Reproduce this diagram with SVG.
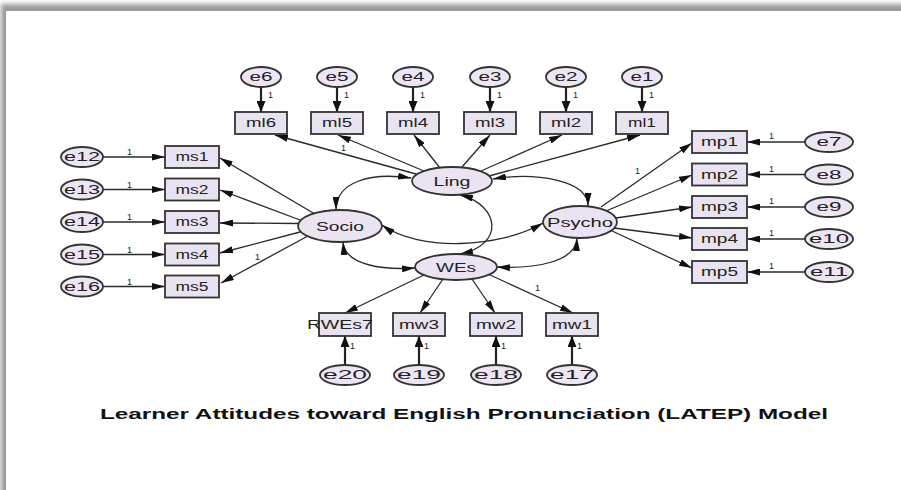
<svg xmlns="http://www.w3.org/2000/svg" width="901" height="490" viewBox="0 0 901 490">
<style>
.box{fill:#e9e2f0;stroke:#333;stroke-width:1.8}
.ell{fill:#eee5f4;stroke:#333;stroke-width:1.8}
.lat{fill:#ebe2f2;stroke:#333;stroke-width:1.8}
.t{font-family:"Liberation Sans",Arial,sans-serif;font-size:12px;fill:#222;text-anchor:middle}
.one{font-family:"Liberation Sans",Arial,sans-serif;font-size:9px;fill:#222}
.ld{stroke:#2a2a2a;stroke-width:1.3;fill:none;marker-end:url(#ah)}
.er{stroke:#222;stroke-width:2.2;fill:none;marker-end:url(#ahb)}
.erh{stroke:#2a2a2a;stroke-width:1.3;fill:none;marker-end:url(#ah)}
.cv{stroke:#2a2a2a;stroke-width:1.3;fill:none;marker-start:url(#ah);marker-end:url(#ah)}
</style>
<defs>
<marker id="ah" viewBox="0 0 13 7" refX="13" refY="3.5" markerWidth="13" markerHeight="7" markerUnits="userSpaceOnUse" orient="auto-start-reverse"><path d="M0,0 L13,3.5 L0,7 Z" fill="#111"/></marker>
<marker id="ahb" viewBox="0 0 11 9" refX="11" refY="4.5" markerWidth="11" markerHeight="9" markerUnits="userSpaceOnUse" orient="auto"><path d="M0,0 L11,4.5 L0,9 Z" fill="#111"/></marker>
<filter id="sh" x="-0.1" y="-0.1" width="1.2" height="1.2"><feGaussianBlur stdDeviation="2.5"/></filter>
</defs>
<rect width="901" height="490" fill="#fff"/>
<rect x="1" y="4" width="1000" height="600" fill="#9a9a9a" filter="url(#sh)"/>
<rect x="6" y="11" width="900" height="480" fill="#fff"/>

<g id="connectors">
<line class="er" x1="261" y1="87" x2="261" y2="112"/>
<line class="er" x1="337" y1="87" x2="337" y2="112"/>
<line class="er" x1="413" y1="87" x2="413" y2="112"/>
<line class="er" x1="490" y1="87" x2="490" y2="112"/>
<line class="er" x1="566" y1="87" x2="566" y2="112"/>
<line class="er" x1="642" y1="87" x2="642" y2="112"/>
<line class="erh" x1="103" y1="157" x2="165" y2="157"/>
<line class="erh" x1="103" y1="189.5" x2="165" y2="189.5"/>
<line class="erh" x1="103" y1="222" x2="165" y2="222"/>
<line class="erh" x1="103" y1="254.5" x2="165" y2="254.5"/>
<line class="erh" x1="103" y1="286.5" x2="165" y2="286.5"/>
<line class="erh" x1="805" y1="142" x2="747" y2="142"/>
<line class="erh" x1="805" y1="174.5" x2="747" y2="174.5"/>
<line class="erh" x1="805" y1="207" x2="747" y2="207"/>
<line class="erh" x1="805" y1="239" x2="747" y2="239"/>
<line class="erh" x1="805" y1="272" x2="747" y2="272"/>
<line class="er" x1="345" y1="365" x2="345" y2="336"/>
<line class="er" x1="419" y1="365" x2="419" y2="336"/>
<line class="er" x1="496" y1="365" x2="496" y2="336"/>
<line class="er" x1="572" y1="365" x2="572" y2="336"/>
<line class="ld" x1="416" y1="174" x2="275" y2="135"/>
<line class="ld" x1="424" y1="171" x2="338" y2="135"/>
<line class="ld" x1="440" y1="168" x2="414" y2="135"/>
<line class="ld" x1="462" y1="167" x2="490" y2="135"/>
<line class="ld" x1="481" y1="171" x2="562" y2="135"/>
<line class="ld" x1="489" y1="176" x2="640" y2="135"/>
<line class="ld" x1="314" y1="213.5" x2="220" y2="158"/>
<line class="ld" x1="300" y1="220" x2="220" y2="190"/>
<line class="ld" x1="298" y1="223.5" x2="220" y2="223"/>
<line class="ld" x1="300" y1="232" x2="220" y2="253"/>
<line class="ld" x1="307" y1="236.5" x2="221" y2="283"/>
<line class="ld" x1="601" y1="207" x2="692" y2="143"/>
<line class="ld" x1="606" y1="211" x2="692" y2="175"/>
<line class="ld" x1="616" y1="218" x2="692" y2="207"/>
<line class="ld" x1="614" y1="228" x2="692" y2="238"/>
<line class="ld" x1="611" y1="230.5" x2="692" y2="268"/>
<line class="ld" x1="424" y1="275" x2="345" y2="313"/>
<line class="ld" x1="443" y1="279" x2="420" y2="313"/>
<line class="ld" x1="472" y1="279" x2="495" y2="313"/>
<line class="ld" x1="489" y1="274.5" x2="573" y2="313"/>
<path class="cv" d="M411,178 C370,172 336,182 336,210"/>
<path class="cv" d="M493,179 C535,172 588,180 588,206"/>
<path class="cv" d="M343,242 C345,266 385,270 415,268"/>
<path class="cv" d="M577,238 C576,262 535,269 497,267"/>
<path class="cv" d="M460,195 C500,205 505,245 460,254"/>
<path class="cv" d="M382,225 C420,252 500,248 543,223"/>
<text class="one" x="268" y="98">1</text>
<text class="one" x="344" y="98">1</text>
<text class="one" x="420" y="98">1</text>
<text class="one" x="497" y="98">1</text>
<text class="one" x="573" y="98">1</text>
<text class="one" x="649" y="98">1</text>
<text class="one" x="127" y="155">1</text>
<text class="one" x="127" y="187.5">1</text>
<text class="one" x="127" y="220">1</text>
<text class="one" x="127" y="252.5">1</text>
<text class="one" x="127" y="284.5">1</text>
<text class="one" x="769" y="139">1</text>
<text class="one" x="769" y="171.5">1</text>
<text class="one" x="769" y="204">1</text>
<text class="one" x="769" y="236">1</text>
<text class="one" x="769" y="269">1</text>
<text class="one" x="350" y="349">1</text>
<text class="one" x="424" y="349">1</text>
<text class="one" x="501" y="349">1</text>
<text class="one" x="577" y="349">1</text>
<text class="one" x="341" y="151">1</text>
<text class="one" x="255" y="260">1</text>
<text class="one" x="635" y="174">1</text>
<text class="one" x="535" y="291">1</text>
</g>

<g id="e6"><ellipse class="ell" cx="261" cy="77" rx="20" ry="10"/><text class="t" x="261" y="81" textLength="23" lengthAdjust="spacingAndGlyphs">e6</text></g>
<g id="e5"><ellipse class="ell" cx="337" cy="77" rx="20" ry="10"/><text class="t" x="337" y="81" textLength="23" lengthAdjust="spacingAndGlyphs">e5</text></g>
<g id="e4"><ellipse class="ell" cx="413" cy="77" rx="20" ry="10"/><text class="t" x="413" y="81" textLength="23" lengthAdjust="spacingAndGlyphs">e4</text></g>
<g id="e3"><ellipse class="ell" cx="490" cy="77" rx="20" ry="10"/><text class="t" x="490" y="81" textLength="23" lengthAdjust="spacingAndGlyphs">e3</text></g>
<g id="e2"><ellipse class="ell" cx="566" cy="77" rx="20" ry="10"/><text class="t" x="566" y="81" textLength="23" lengthAdjust="spacingAndGlyphs">e2</text></g>
<g id="e1"><ellipse class="ell" cx="642" cy="77" rx="20" ry="10"/><text class="t" x="642" y="81" textLength="23" lengthAdjust="spacingAndGlyphs">e1</text></g>

<g id="ml6"><rect class="box" x="235" y="112" width="52" height="22"/><text class="t" x="261" y="127" textLength="30" lengthAdjust="spacingAndGlyphs">ml6</text></g>
<g id="ml5"><rect class="box" x="311" y="112" width="52" height="22"/><text class="t" x="337" y="127" textLength="30" lengthAdjust="spacingAndGlyphs">ml5</text></g>
<g id="ml4"><rect class="box" x="387" y="112" width="52" height="22"/><text class="t" x="413" y="127" textLength="30" lengthAdjust="spacingAndGlyphs">ml4</text></g>
<g id="ml3"><rect class="box" x="464" y="112" width="52" height="22"/><text class="t" x="490" y="127" textLength="30" lengthAdjust="spacingAndGlyphs">ml3</text></g>
<g id="ml2"><rect class="box" x="540" y="112" width="52" height="22"/><text class="t" x="566" y="127" textLength="30" lengthAdjust="spacingAndGlyphs">ml2</text></g>
<g id="ml1"><rect class="box" x="616" y="112" width="52" height="22"/><text class="t" x="642" y="127" textLength="28" lengthAdjust="spacingAndGlyphs">ml1</text></g>

<g id="e12"><ellipse class="ell" cx="82" cy="157" rx="21" ry="10"/><text class="t" x="82" y="161" textLength="36" lengthAdjust="spacingAndGlyphs">e12</text></g>
<g id="e13"><ellipse class="ell" cx="82" cy="189.5" rx="21" ry="10"/><text class="t" x="82" y="193.5" textLength="36" lengthAdjust="spacingAndGlyphs">e13</text></g>
<g id="e14"><ellipse class="ell" cx="82" cy="222" rx="21" ry="10"/><text class="t" x="82" y="226" textLength="36" lengthAdjust="spacingAndGlyphs">e14</text></g>
<g id="e15"><ellipse class="ell" cx="82" cy="254.5" rx="21" ry="10"/><text class="t" x="82" y="258.5" textLength="36" lengthAdjust="spacingAndGlyphs">e15</text></g>
<g id="e16"><ellipse class="ell" cx="82" cy="286.5" rx="21" ry="10"/><text class="t" x="82" y="290.5" textLength="36" lengthAdjust="spacingAndGlyphs">e16</text></g>

<g id="ms1"><rect class="box" x="165" y="146" width="54" height="22"/><text class="t" x="192" y="161" textLength="33" lengthAdjust="spacingAndGlyphs">ms1</text></g>
<g id="ms2"><rect class="box" x="165" y="178.5" width="54" height="22"/><text class="t" x="192" y="193.5" textLength="33" lengthAdjust="spacingAndGlyphs">ms2</text></g>
<g id="ms3"><rect class="box" x="165" y="211" width="54" height="22"/><text class="t" x="192" y="226" textLength="33" lengthAdjust="spacingAndGlyphs">ms3</text></g>
<g id="ms4"><rect class="box" x="165" y="243.5" width="54" height="22"/><text class="t" x="192" y="258.5" textLength="33" lengthAdjust="spacingAndGlyphs">ms4</text></g>
<g id="ms5"><rect class="box" x="165" y="275.5" width="54" height="22"/><text class="t" x="192" y="290.5" textLength="33" lengthAdjust="spacingAndGlyphs">ms5</text></g>

<g id="mp1"><rect class="box" x="692" y="131" width="55" height="22"/><text class="t" x="719.5" y="146" textLength="37" lengthAdjust="spacingAndGlyphs">mp1</text></g>
<g id="mp2"><rect class="box" x="692" y="163.5" width="55" height="22"/><text class="t" x="719.5" y="178.5" textLength="37" lengthAdjust="spacingAndGlyphs">mp2</text></g>
<g id="mp3"><rect class="box" x="692" y="196" width="55" height="22"/><text class="t" x="719.5" y="211" textLength="37" lengthAdjust="spacingAndGlyphs">mp3</text></g>
<g id="mp4"><rect class="box" x="692" y="228" width="55" height="22"/><text class="t" x="719.5" y="243" textLength="37" lengthAdjust="spacingAndGlyphs">mp4</text></g>
<g id="mp5"><rect class="box" x="692" y="261" width="55" height="22"/><text class="t" x="719.5" y="276" textLength="37" lengthAdjust="spacingAndGlyphs">mp5</text></g>

<g id="e7"><ellipse class="ell" cx="829" cy="142" rx="24" ry="10"/><text class="t" x="829" y="146" textLength="25" lengthAdjust="spacingAndGlyphs">e7</text></g>
<g id="e8"><ellipse class="ell" cx="829" cy="174.5" rx="24" ry="10"/><text class="t" x="829" y="178.5" textLength="25" lengthAdjust="spacingAndGlyphs">e8</text></g>
<g id="e9"><ellipse class="ell" cx="829" cy="207" rx="24" ry="10"/><text class="t" x="829" y="211" textLength="25" lengthAdjust="spacingAndGlyphs">e9</text></g>
<g id="e10"><ellipse class="ell" cx="829" cy="239" rx="24" ry="10"/><text class="t" x="829" y="243" textLength="40" lengthAdjust="spacingAndGlyphs">e10</text></g>
<g id="e11"><ellipse class="ell" cx="829" cy="272" rx="24" ry="10"/><text class="t" x="829" y="276" textLength="38" lengthAdjust="spacingAndGlyphs">e11</text></g>

<g id="RWEs7"><rect class="box" x="319" y="313" width="52" height="23"/><text class="t" x="340" y="329" textLength="66" lengthAdjust="spacingAndGlyphs">RWEs7</text></g>
<g id="mw3"><rect class="box" x="393" y="313" width="52" height="23"/><text class="t" x="419" y="329" textLength="40" lengthAdjust="spacingAndGlyphs">mw3</text></g>
<g id="mw2"><rect class="box" x="470" y="313" width="52" height="23"/><text class="t" x="496" y="329" textLength="40" lengthAdjust="spacingAndGlyphs">mw2</text></g>
<g id="mw1"><rect class="box" x="546" y="313" width="52" height="23"/><text class="t" x="572" y="329" textLength="40" lengthAdjust="spacingAndGlyphs">mw1</text></g>

<g id="e20"><ellipse class="ell" cx="345" cy="375" rx="25" ry="10"/><text class="t" x="345" y="379" textLength="44" lengthAdjust="spacingAndGlyphs">e20</text></g>
<g id="e19"><ellipse class="ell" cx="419" cy="375" rx="25" ry="10"/><text class="t" x="419" y="379" textLength="44" lengthAdjust="spacingAndGlyphs">e19</text></g>
<g id="e18"><ellipse class="ell" cx="496" cy="375" rx="25" ry="10"/><text class="t" x="496" y="379" textLength="44" lengthAdjust="spacingAndGlyphs">e18</text></g>
<g id="e17"><ellipse class="ell" cx="572" cy="375" rx="25" ry="10"/><text class="t" x="572" y="379" textLength="44" lengthAdjust="spacingAndGlyphs">e17</text></g>

<g id="Ling"><ellipse class="lat" cx="452" cy="181" rx="40" ry="14"/><text class="t" x="452" y="186" textLength="37" lengthAdjust="spacingAndGlyphs">Ling</text></g>
<g id="Socio"><ellipse class="lat" cx="340" cy="226" rx="42" ry="16"/><text class="t" x="340" y="231" textLength="48" lengthAdjust="spacingAndGlyphs">Socio</text></g>
<g id="Psycho"><ellipse class="lat" cx="580" cy="222" rx="37" ry="16"/><text class="t" x="580" y="227" textLength="66" lengthAdjust="spacingAndGlyphs">Psycho</text></g>
<g id="WEs"><ellipse class="lat" cx="456" cy="267" rx="41" ry="13"/><text class="t" x="456" y="272" textLength="40" lengthAdjust="spacingAndGlyphs">WEs</text></g>

<text x="100" y="419" font-family="Liberation Sans, Arial, sans-serif" font-size="14" font-weight="bold" fill="#111" textLength="728" lengthAdjust="spacingAndGlyphs">Learner Attitudes toward English Pronunciation (LATEP) Model</text>
</svg>
